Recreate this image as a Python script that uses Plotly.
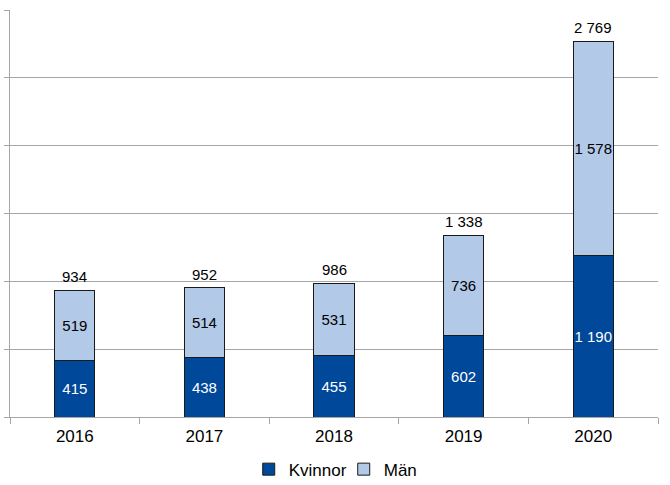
import plotly.graph_objects as go

years = ["2016", "2017", "2018", "2019", "2020"]
kvinnor = [415, 438, 455, 602, 1190]
man = [519, 514, 531, 736, 1578]
totals = [934, 952, 986, 1338, 2769]

def fmt(v):
    return f"{v:,}".replace(",", " ")

dark = "#004899"
light = "#B2C9E8"
font = "Liberation Sans, Arial, sans-serif"

fig = go.Figure()
fig.add_trace(go.Bar(
    x=years, y=kvinnor, name="Kvinnor",
    marker=dict(color=dark, line=dict(color="#1a1a1a", width=1)),
    text=[fmt(v) for v in kvinnor], textposition="inside",
    insidetextanchor="middle", textangle=0, constraintext="none",
    insidetextfont=dict(color="white", size=15, family=font),
))
fig.add_trace(go.Bar(
    x=years, y=man, name="Män",
    marker=dict(color=light, line=dict(color="#1a1a1a", width=1)),
    text=[fmt(v) for v in man], textposition="inside",
    insidetextanchor="middle", textangle=0, constraintext="none",
    insidetextfont=dict(color="black", size=15, family=font),
))
for i, t in enumerate(totals):
    fig.add_annotation(x=i, y=t, text=fmt(t), showarrow=False,
                       yanchor="bottom", yshift=3,
                       font=dict(color="black", size=15, family=font))

fig.update_layout(
    width=670, height=485,
    margin=dict(l=10, r=12, t=10, b=68, autoexpand=False),
    barmode="stack", bargap=0.69,
    plot_bgcolor="white", paper_bgcolor="white",
    font=dict(family=font, color="black", size=16),
    legend=dict(orientation="h", x=0.515, xanchor="center", y=-0.085, yanchor="top",
                font=dict(size=17), itemwidth=30, traceorder="normal",
                entrywidth=50),
)
fig.update_yaxes(range=[0, 3000], dtick=500, showticklabels=False,
                 showgrid=True, gridcolor="#A6A6A6", gridwidth=1,
                 ticks="outside", ticklen=5, tickcolor="#A6A6A6",
                 showline=True, linecolor="#A6A6A6", linewidth=1, zeroline=False,
                 automargin=False)
fig.update_xaxes(type="category", range=[-0.5, len(years) - 0.5],
                 showline=True, linecolor="#A6A6A6", linewidth=1,
                 ticks="outside", tickson="boundaries", ticklen=6, tickcolor="#A6A6A6",
                 tickfont=dict(size=17), ticklabelstandoff=4, automargin=False)

fig.write_html("out.html", config={"displayModeBar": False},
               post_script="document.body.style.margin='0';")
